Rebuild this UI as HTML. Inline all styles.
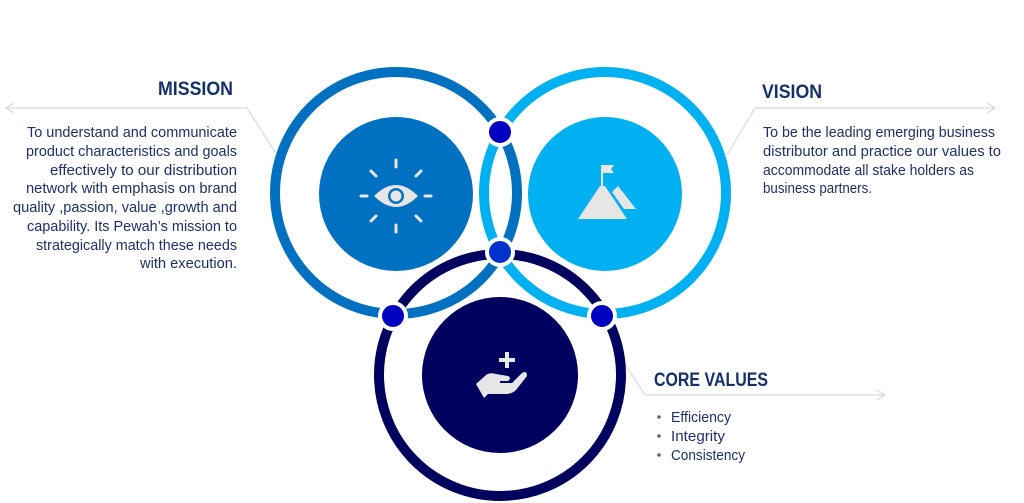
<!DOCTYPE html>
<html><head><style>html,body{margin:0;padding:0;background:#fff;}svg{display:block}</style></head>
<body>
<svg width="1024" height="503" viewBox="0 0 1024 503" xmlns="http://www.w3.org/2000/svg" font-family="'Liberation Sans', sans-serif">
<g stroke="#d9d9d9" stroke-width="1.2" fill="none">
<polyline points="275,152 247,108 6,108"/>
<polyline points="14,103 6,108 14,113"/>
<polyline points="727,155 755,108 995,108"/>
<polyline points="987,103 995,108 987,113"/>
<polyline points="625,364 645,395 885,395"/>
<polyline points="877,390 885,395 877,400"/>
</g>
<circle cx="605" cy="193" r="121" fill="none" stroke="#00b0f0" stroke-width="10"/>
<circle cx="396" cy="193" r="121" fill="none" stroke="#0070c0" stroke-width="10"/>
<circle cx="500" cy="375" r="121" fill="none" stroke="#00005e" stroke-width="10"/>
<circle cx="396" cy="194" r="77" fill="#0070c0"/>
<circle cx="605" cy="194" r="77" fill="#00b0f0"/>
<circle cx="500" cy="375" r="78" fill="#00005e"/>
<g stroke="#fff" stroke-width="4">
<circle cx="500" cy="132" r="13" fill="#0000c0"/>
<circle cx="500" cy="252" r="13" fill="#0033cc"/>
<circle cx="393" cy="316" r="13" fill="#0000c0"/>
<circle cx="602" cy="316" r="13" fill="#0000c0"/>
</g>
<g fill="#e6e6e6" stroke="#e6e6e6">
<path d="M374,196 Q396,174 418,196 Q396,218 374,196 Z" stroke="none"/>
<circle cx="396" cy="196" r="8" fill="#0070c0" stroke="none"/>
<circle cx="396" cy="196" r="5.5" fill="#e6e6e6" stroke="none"/>
<g stroke-width="3" stroke-linecap="round" fill="none">
<line x1="396" y1="160" x2="396" y2="167"/><line x1="396" y1="225" x2="396" y2="232"/>
<line x1="361" y1="196" x2="367" y2="196"/><line x1="425" y1="196" x2="431" y2="196"/>
<line x1="371" y1="171" x2="376" y2="176"/><line x1="421" y1="171" x2="416" y2="176"/>
<line x1="371" y1="221" x2="376" y2="216"/><line x1="421" y1="221" x2="416" y2="216"/>
</g>
</g>
<g fill="#e6e6e6">
<polygon points="578,219 600,186 605,186 627,219"/>
<polygon points="612,192 618,186 636,209 624,209"/>
<rect x="601" y="165" width="2" height="24"/>
<polygon points="603,165 614,165 611,169 614,173 603,173"/>
</g>
<g fill="#e6e6e6">
<rect x="505" y="352" width="4" height="16"/>
<rect x="499" y="358" width="16" height="4"/>
<path d="M476,384 L486,375 Q490,372 496,374 L508,376 Q512,378 508,381 L500,381 L500,383 L512,383 L522,373 Q527,370 527,376 L516,390 Q512,394 506,394 L488,394 L484,398 Z"/>
</g>
<g fill="#14306b" font-weight="bold" font-size="19">
<text x="158" y="95" textLength="75" lengthAdjust="spacingAndGlyphs">MISSION</text>
<text x="762" y="98" textLength="60" lengthAdjust="spacingAndGlyphs">VISION</text>
<text x="654" y="386" textLength="114" lengthAdjust="spacingAndGlyphs">CORE VALUES</text>
</g>
<g fill="#1f3068" font-size="14.5">
<text x="237" y="137" text-anchor="end" textLength="210" lengthAdjust="spacingAndGlyphs">To understand and communicate</text>
<text x="237" y="156" text-anchor="end" textLength="211" lengthAdjust="spacingAndGlyphs">product characteristics and goals</text>
<text x="237" y="175" text-anchor="end" textLength="187" lengthAdjust="spacingAndGlyphs">effectively to our distribution</text>
<text x="237" y="193" text-anchor="end" textLength="211" lengthAdjust="spacingAndGlyphs">network with emphasis on brand</text>
<text x="237" y="212" text-anchor="end" textLength="224" lengthAdjust="spacingAndGlyphs">quality ,passion, value ,growth and</text>
<text x="237" y="231" text-anchor="end" textLength="210" lengthAdjust="spacingAndGlyphs">capability. Its Pewah’s mission to</text>
<text x="237" y="250" text-anchor="end" textLength="201" lengthAdjust="spacingAndGlyphs">strategically match these needs</text>
<text x="237" y="268" text-anchor="end" textLength="97" lengthAdjust="spacingAndGlyphs">with execution.</text>
<text x="763" y="137" textLength="232" lengthAdjust="spacingAndGlyphs">To be the leading emerging business</text>
<text x="763" y="156" textLength="238" lengthAdjust="spacingAndGlyphs">distributor and practice our values to</text>
<text x="763" y="175" textLength="211" lengthAdjust="spacingAndGlyphs">accommodate all stake holders as</text>
<text x="763" y="193" textLength="109" lengthAdjust="spacingAndGlyphs">business partners.</text>
<text x="671" y="422" textLength="60" lengthAdjust="spacingAndGlyphs">Efficiency</text>
<text x="671" y="441" textLength="54" lengthAdjust="spacingAndGlyphs">Integrity</text>
<text x="671" y="460" textLength="74" lengthAdjust="spacingAndGlyphs">Consistency</text>
</g>
<g fill="#666">
<circle cx="659" cy="417" r="1.8"/><circle cx="659" cy="436" r="1.8"/><circle cx="659" cy="455" r="1.8"/>
</g>
</svg>
</body></html>
